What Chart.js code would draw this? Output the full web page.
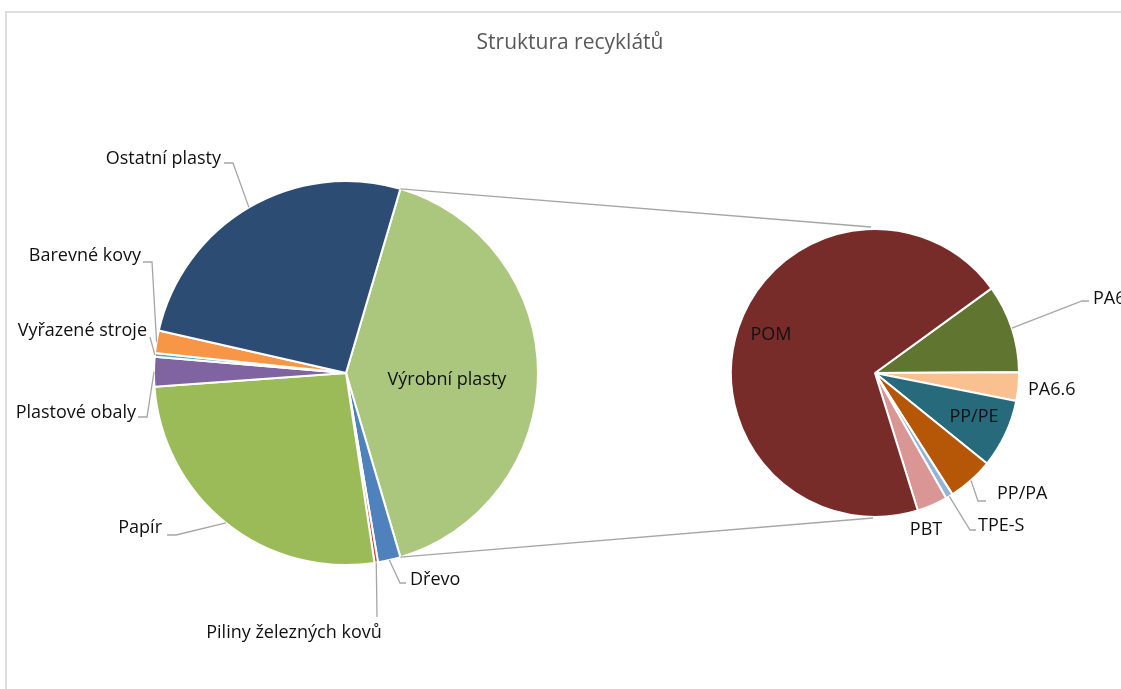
<!DOCTYPE html>
<html>
<head>
<meta charset="utf-8">
<title>Struktura recyklátů</title>
<script src="https://cdn.jsdelivr.net/npm/chart.js@4.4.1/dist/chart.umd.min.js"></script>
<style>
  html, body { margin: 0; padding: 0; background: #fff; overflow: hidden; }
  #wrap { position: relative; width: 1121px; height: 689px; overflow: hidden; background: #fff; }
  canvas { position: absolute; left: 0; top: 0; }
</style>
</head>
<body>
<div id="wrap">
  <canvas id="mainPie" width="1121" height="689"></canvas>
  <canvas id="subPie" width="1121" height="689"></canvas>
</div>
<script>
// hlavní koláč - položky mimo výrobní plasty (podíl v %)
const mainLabels = ["Dřevo", "Piliny železných kovů", "Papír", "Plastové obaly", "Vyřazené stroje", "Barevné kovy", "Ostatní plasty"];
const mainValues = [1.9, 0.3, 26.2, 2.5, 0.3, 1.9, 26.0];
const mainColors = ["#4F81BD", "#C0504D", "#9BBB59", "#8064A2", "#4BACC6", "#F79646", "#2D4C74"];

// výrobní plasty = součet vedlejšího koláče
const otherLabel = "Výrobní plasty";
const otherColor = "#AAC77D";

// vedlejší koláč - rozpad výrobních plastů
const subLabels = ["PA6", "PA6.6", "PP/PE", "PP/PA", "TPE-S", "PBT", "POM"];
const subValues = [4.05, 1.3, 3.15, 2.1, 0.33, 1.4, 28.5];
const subColors = ["#5F7530", "#FAC090", "#276A7C", "#B65708", "#95B3D7", "#D99694", "#772C2A"];

const titleText = "Struktura recyklátů";

const FONT = "'Open Sans', 'Noto Sans', sans-serif";
const LINE = "#A6A6A6";
const TEXT = "#111111";

// umístění popisků (pořadí jako v datasetu)
const mainLabelLayout = [
    { x: 447, y: 380, align: "center" },
    { x: 410, y: 580, align: "left", via: [[400, 583], [406, 583]] },
    { x: 294, y: 633, align: "center", via: [[377, 617]] },
    { x: 162, y: 528, align: "right", via: [[176, 535], [167, 535]] },
    { x: 136, y: 413, align: "right", via: [[147, 417], [138, 417]] },
    { x: 147, y: 331, align: "right", via: [[150, 337]] },
    { x: 141, y: 256, align: "right", via: [[152, 262], [143, 262]] },
    { x: 221, y: 159, align: "right", via: [[233, 163], [224, 163]] }
];

const subLabelLayout = [
    { x: 1093, y: 299, align: "left", via: [[1082, 301], [1089, 301]] },
    { x: 1028, y: 390, align: "left" },
    { x: 974, y: 417, align: "center" },
    { x: 997, y: 494, align: "left", via: [[978, 501], [986, 501]] },
    { x: 978, y: 526, align: "left", via: [[970, 530], [976, 530]] },
    { x: 926, y: 530, align: "center" },
    { x: 771, y: 335, align: "center" }
];

const sum = arr => arr.reduce((a, b) => a + b, 0);
const otherValue = sum(subValues);
const totalValue = otherValue + sum(mainValues);

function drawLabels(chart, layout) {
    const ctx = chart.ctx;
    const arcs = chart.getDatasetMeta(0).data;
    ctx.save();
    ctx.font = "18px " + FONT;
    ctx.textBaseline = "middle";
    layout.forEach((l, i) => {
        if (l.via) {
            const p = arcs[i].getProps(["x", "y", "startAngle", "endAngle", "outerRadius"], true);
            const mid = (p.startAngle + p.endAngle) / 2;
            ctx.beginPath();
            ctx.moveTo(p.x + Math.cos(mid) * p.outerRadius, p.y + Math.sin(mid) * p.outerRadius);
            l.via.forEach(v => ctx.lineTo(v[0], v[1]));
            ctx.strokeStyle = LINE;
            ctx.lineWidth = 1.3;
            ctx.stroke();
        }
        ctx.fillStyle = TEXT;
        ctx.textAlign = l.align;
        ctx.fillText(chart.data.labels[i], l.x, l.y);
    });
    ctx.restore();
}

const baseOptions = {
    responsive: false,
    animation: false,
    devicePixelRatio: 1,
    plugins: { legend: { display: false }, tooltip: { enabled: false } }
};

const mainChart = new Chart(document.getElementById("mainPie"), {
    type: "pie",
    data: {
        labels: [otherLabel].concat(mainLabels),
        datasets: [{
            data: [otherValue].concat(mainValues),
            backgroundColor: [otherColor].concat(mainColors),
            borderColor: "#FFFFFF",
            borderWidth: 2
        }]
    },
    options: Object.assign({}, baseOptions, {
        radius: 192,
        // výrobní plasty vystředěné vpravo
        rotation: 90 - otherValue / totalValue * 180,
        layout: { padding: { left: 154, right: 583, top: 181, bottom: 124 } }
    }),
    plugins: [{
        id: "mainLabels",
        beforeDraw(chart) {
            // rámeček grafu (jen horní a levá hrana)
            const ctx = chart.ctx;
            ctx.save();
            ctx.strokeStyle = "#DEDEDE";
            ctx.lineWidth = 2;
            ctx.beginPath();
            ctx.moveTo(6, 689);
            ctx.lineTo(6, 12);
            ctx.lineTo(1121, 12);
            ctx.stroke();
            ctx.restore();
        },
        afterDraw(chart) {
            const ctx = chart.ctx;
            ctx.save();
            ctx.font = "21px " + FONT;
            ctx.fillStyle = "#595959";
            ctx.textAlign = "center";
            ctx.textBaseline = "middle";
            ctx.fillText(titleText, 570, 43);
            ctx.restore();
            drawLabels(chart, mainLabelLayout);
        }
    }]
});

new Chart(document.getElementById("subPie"), {
    type: "pie",
    data: {
        labels: subLabels,
        datasets: [{
            data: subValues,
            backgroundColor: subColors,
            borderColor: "#FFFFFF",
            borderWidth: 2
        }]
    },
    options: Object.assign({}, baseOptions, {
        radius: 144,
        rotation: 54,
        layout: { padding: { left: 731, right: 102, top: 229, bottom: 172 } }
    }),
    plugins: [{
        id: "subLabels",
        afterDraw(chart) {
            // spojnice mezi koláči
            const m = mainChart.getDatasetMeta(0).data[0].getProps(["x", "y", "startAngle", "endAngle", "outerRadius"], true);
            const s = chart.getDatasetMeta(0).data[0].getProps(["x", "y", "outerRadius"], true);
            const ctx = chart.ctx;
            ctx.save();
            ctx.strokeStyle = LINE;
            ctx.lineWidth = 1.3;
            ctx.beginPath();
            ctx.moveTo(m.x + Math.cos(m.startAngle) * m.outerRadius, m.y + Math.sin(m.startAngle) * m.outerRadius);
            ctx.lineTo(s.x - 4, s.y - s.outerRadius - 2);
            ctx.moveTo(m.x + Math.cos(m.endAngle) * m.outerRadius, m.y + Math.sin(m.endAngle) * m.outerRadius);
            ctx.lineTo(s.x - 2, s.y + s.outerRadius + 1);
            ctx.stroke();
            ctx.restore();
            drawLabels(chart, subLabelLayout);
        }
    }]
});
</script>
</body>
</html>
